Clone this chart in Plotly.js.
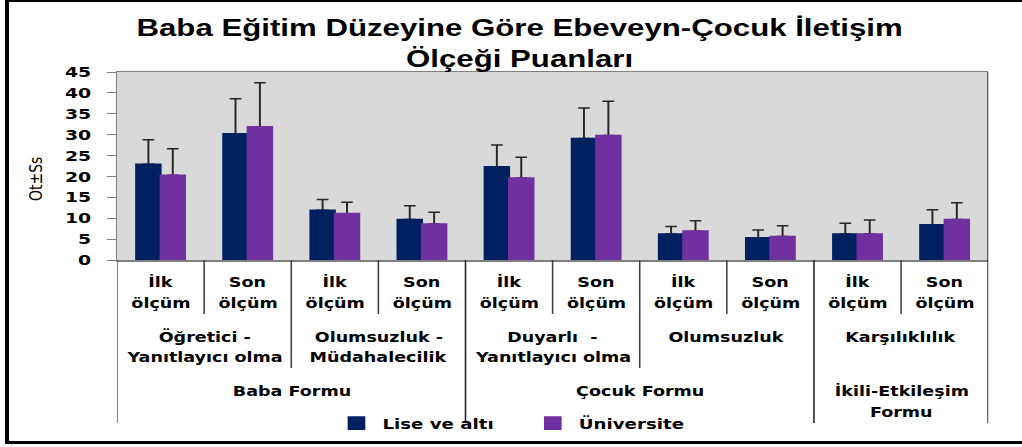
<!DOCTYPE html>
<html>
<head>
<meta charset="utf-8">
<script src="https://cdn.plot.ly/plotly-3.0.1.min.js"></script>
<style>
html,body{margin:0;padding:0;background:#fff;overflow:hidden;width:1022px;height:447px;}
#wrap{position:relative;width:1022px;height:447px;overflow:hidden;}
#chart{position:absolute;left:0;top:0;width:786px;height:447px;transform:scaleX(1.30025);transform-origin:0 0;}
#frame{position:absolute;left:5px;top:0;width:1100px;height:444px;box-sizing:border-box;border-left:4px solid #000;border-top:2px solid #000;border-bottom:3px solid #000;pointer-events:none;}
</style>
</head>
<body>
<div id="wrap"><div id="chart"></div><div id="frame"></div></div>
<script>
// ---- data ----
const olcumLabels = [['İlk','ölçüm'],['Son','ölçüm'],['İlk','ölçüm'],['Son','ölçüm'],['İlk','ölçüm'],
                     ['Son','ölçüm'],['İlk','ölçüm'],['Son','ölçüm'],['İlk','ölçüm'],['Son','ölçüm']];
const altOlcekler = [['Öğretici -','Yanıtlayıcı olma'],['Olumsuzluk -','Müdahalecilik'],
                     ['Duyarlı  -','Yanıtlayıcı olma'],['Olumsuzluk'],['Karşılıklılık']];
const formlar = [['Baba Formu'],['Çocuk Formu'],['İkili-Etkileşim','Formu']];
const formSpan = [4, 4, 2];
const liseMean = [22.9, 30.2, 11.9, 9.7, 22.3, 29.1, 6.2, 5.3, 6.2, 8.4];
const liseSs   = [5.9, 8.4, 2.6, 3.3, 5.2, 7.3, 1.8, 1.9, 2.6, 3.6];
const uniMean  = [20.3, 31.9, 11.1, 8.6, 19.6, 29.8, 6.9, 5.6, 6.2, 9.7];
const uniSs    = [6.3, 10.5, 2.7, 2.8, 5.0, 8.2, 2.5, 2.6, 3.4, 4.0];
const seriesNames = ['Lise ve altı', 'Üniversite'];
const yTitle = 'Ot±Ss';
const titleText = 'Baba Eğitim Düzeyine Göre Ebeveyn-Çocuk İletişim<br>Ölçeği Puanları';

// ---- styling ----
const NAVY = '#002060', PURPLE = '#7030A0';
const LBL = {family: 'DejaVu Sans, Verdana, sans-serif', size: 13.5, color: '#000', weight: 'bold'};
const xs = olcumLabels.map((_, i) => i);
const py = px => (260 - px) / 188;   // reference pixel row -> paper y

function errTrace(y, ss, color, grp) {
  return {type: 'bar', x: xs, y: y, offsetgroup: grp, marker: {color: color}, showlegend: false,
    hoverinfo: 'skip',
    error_y: {type: 'data', symmetric: false, array: ss, arrayminus: ss.map(() => 0),
              color: '#262626', thickness: 1.5, width: 4.5}};
}
function mainTrace(y, color, grp, name) {
  return {type: 'bar', x: xs, y: y, offsetgroup: grp, name: name,
    marker: {color: color, line: {color: color, width: 1.6}}};
}
const traces = [
  errTrace(liseMean, liseSs, NAVY, 'a'),
  errTrace(uniMean, uniSs, PURPLE, 'b'),
  mainTrace(liseMean, NAVY, 'a', seriesNames[0]),
  mainTrace(uniMean, PURPLE, 'b', seriesNames[1])
];

const annotations = [];
const shapes = [];
function addLines(lines, x, rows) {
  lines.forEach((t, k) => annotations.push({text: t, x: x, xref: 'x', y: py(rows[k]), yref: 'paper',
    showarrow: false, xanchor: 'center', yanchor: 'middle', font: LBL}));
}
function vline(x, yBottomPx, color) {
  shapes.push({type: 'line', xref: 'x', yref: 'paper', x0: x, x1: x, y0: 0, y1: py(yBottomPx),
    line: {color: color || '#404040', width: 1.2}});
}
// level 1
olcumLabels.forEach((l, i) => addLines(l, i, [281.7, 302.7]));
// level 2
altOlcekler.forEach((l, j) => { addLines(l, 2 * j + 0.5, [336.7, 357.3]); vline(2 * j + 0.5, 314); });
// level 3
let start = 0;
formlar.forEach((l, j) => {
  addLines(l, start + formSpan[j] / 2 - 0.5, [391, 411.7]);
  start += formSpan[j];
});
// subscale boundaries inside forms
vline(1.5, 368); vline(5.5, 368);
// form boundaries
vline(-0.5, 423, '#606060'); vline(3.5, 423, '#202020'); vline(7.5, 423, '#202020');
shapes.push({type: 'line', xref: 'x', yref: 'paper', x0: 9.5, x1: 9.5, y0: 1, y1: py(423),
  line: {color: '#000', width: 1.2}});
// y axis title
annotations.push({text: yTitle, textangle: -90, xref: 'paper', yref: 'paper', x: -0.094, y: 0.431,
  showarrow: false, xanchor: 'center', yanchor: 'middle',
  font: {family: 'DejaVu Sans, sans-serif', size: 14, color: '#000'}});

const layout = {
  width: 786, height: 447,
  margin: {l: 90, r: 26, t: 72, b: 187, autoexpand: false},
  paper_bgcolor: '#fff', plot_bgcolor: '#D9D9D9',
  title: {text: titleText, x: 0.5084, xref: 'container', xanchor: 'center',
          y: 0.919, yref: 'container', yanchor: 'top',
          font: {family: 'Liberation Sans, Arial, sans-serif', size: 24, color: '#000', weight: 'bold'}},
  barmode: 'group', bargap: 0.44, bargroupgap: 0,
  xaxis: {range: [-0.5, 9.5], showticklabels: false, ticks: '', showgrid: false, zeroline: false,
          showline: true, linecolor: '#7f7f7f', linewidth: 1.5, mirror: true, fixedrange: true},
  yaxis: {range: [0, 45], dtick: 5, tick0: 0, showgrid: false, zeroline: false,
          showline: true, linecolor: '#7f7f7f', linewidth: 1, ticks: 'outside', ticklen: 7,
          tickcolor: '#7f7f7f', ticklabelstandoff: 9,
          tickfont: {family: 'DejaVu Sans, Verdana, sans-serif', size: 14.5, color: '#000', weight: 'bold'}},
  showlegend: true,
  legend: {orientation: 'h', x: 0.245, xanchor: 'left', y: py(423.5), yanchor: 'middle',
           font: {family: 'DejaVu Sans, Verdana, sans-serif', size: 14, color: '#000', weight: 'bold'},
           bgcolor: 'rgba(0,0,0,0)', entrywidth: 106, traceorder: 'normal'},
  annotations: annotations,
  shapes: shapes
};
Plotly.newPlot('chart', traces, layout, {displayModeBar: false, staticPlot: true});
</script>
</body>
</html>
